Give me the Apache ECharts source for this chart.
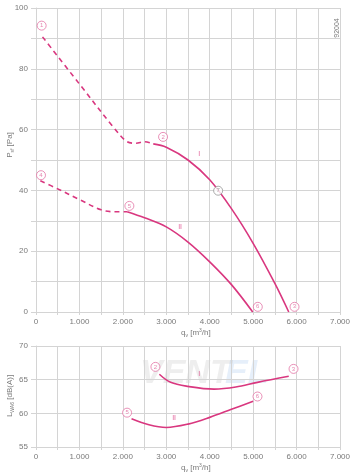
<!DOCTYPE html>
<html><head><meta charset="utf-8">
<script src="https://cdn.jsdelivr.net/npm/echarts@6/dist/echarts.min.js"></script>
<style>html,body{margin:0;padding:0;background:#fff}#c{width:357px;height:476px}</style>
</head><body><div id="c"></div>
<script>
// Pressure curves (q_v in m3/h, p_sf in Pa)
const presIDashed = [[150,90.5],[1000,75],[1800,60.5],[2100,56],[2300,55.5],[2500,56],[2700,55.3]];
const presISolid = [[2700,55.3],[3000,54.2],[3500,50],[4000,43.5],[4500,34],[5000,22.6],[5500,9.4],[5820,0]];
const presIIDashed = [[100,43.2],[500,40.5],[1000,37],[1500,33.6],[1800,33],[2100,33]];
const presIISolid = [[2100,33],[2500,31],[3000,28],[3500,23],[4000,16.5],[4500,9],[4990,0]];
// Sound level curves (dB(A))
const soundI = [[2840,65.8],[3100,64.6],[3500,64],[4100,63.6],[4600,63.9],[5100,64.6],[5820,65.5]];
const soundII = [[2200,59.2],[2600,58.3],[3000,57.9],[3500,58.4],[4000,59.4],[4500,60.6],[5000,61.8]];
// Numbered points
const presMarkers = [[130,94.2,'1'],[2926,57.6,'2'],[5953,1.7,'3'],[115,45,'4'],[2150,34.9,'5'],[5107,1.7,'6']];
const presGreyMarker = [[4194,39.9,'7']];
const soundMarkers = [[2750,66.9,'2'],[5930,66.6,'3'],[2097,60.1,'5'],[5100,62.5,'6']];
const curveLabelsTop = [[3760,52,'I'],[3318,28,'II']];
const curveLabelsBottom = [[3760,65.9,'I'],[3180,59.3,'II']];

const PINK = '#d9377f';
const GRID = '#d4d4d4';
const TXT = '#7a7a7a';
const FONT = 'Liberation Sans';

function fmtX(v){ if (v % 1000 !== 0) return ''; return v === 0 ? '0' : (v/1000) + '.000'; }

function xAxis(idx){
  return {gridIndex: idx, type:'value', min:0, max:7000, interval:500,
    axisLine:{show:false}, axisTick:{show:true, length:3, lineStyle:{color:GRID}},
    splitLine:{show:true, lineStyle:{color:GRID, width:1}},
    axisLabel:{color:TXT, fontSize:8, fontFamily:FONT, margin:6, formatter:fmtX, showMinLabel:true, showMaxLabel:true}};
}

const chart = echarts.init(document.getElementById('c'), null, {renderer:'canvas'});
function lineSeries(data, xi, dashed){
  return {type:'line', xAxisIndex:xi, yAxisIndex:xi, data:data, smooth:0.35, showSymbol:false, silent:true,
    lineStyle:{color:PINK, width:1.6, type: dashed ? [5,4] : 'solid'}, z:3};
}
function markerSeries(data, xi, color){
  return {type:'scatter', xAxisIndex:xi, yAxisIndex:xi, data:data.map(d=>[d[0],d[1],d[2]]), symbol:'circle', symbolSize:9, silent:true, z:5,
    itemStyle:{color:'#fff', borderColor:color, borderWidth:0.9},
    label:{show:true, position:'inside', formatter:p=>p.data[2], color:color, fontSize:6, fontFamily:FONT}};
}
function textSeries(data, xi){
  return {type:'scatter', xAxisIndex:xi, yAxisIndex:xi, data:data, symbolSize:0, silent:true, z:5,
    label:{show:true, position:'inside', formatter:p=>p.data[2], color:PINK, fontSize:7, fontFamily:FONT}};
}

chart.setOption({
  animation:false,
  grid:[{left:36, right:17, top:8, height:304}, {left:36, right:17, top:346, height:101}],
  xAxis:[xAxis(0), xAxis(1)],
  yAxis:[
    {gridIndex:0, type:'value', min:0, max:100, interval:10,
      axisLine:{show:true, lineStyle:{color:GRID}}, axisTick:{show:true, length:5, lineStyle:{color:GRID}},
      splitLine:{lineStyle:{color:GRID}},
      axisLabel:{color:TXT, fontSize:8, fontFamily:FONT, margin:8, formatter:v=> v%20===0 ? String(v) : ''}},
    {gridIndex:1, type:'value', min:55, max:70, interval:5,
      axisLine:{show:true, lineStyle:{color:GRID}}, axisTick:{show:true, length:5, lineStyle:{color:GRID}},
      splitLine:{lineStyle:{color:GRID}},
      axisLabel:{color:TXT, fontSize:8, fontFamily:FONT, margin:8}}
  ],
  graphic:[
    {type:'text', left:140, top:357, z:0, silent:true, style:{text:'VENT', font:'italic bold 34px "Liberation Sans"', fill:'rgba(120,120,120,0.13)'}},
    {type:'text', left:225, top:357, z:0, silent:true, style:{text:'EL', font:'italic bold 34px "Liberation Sans"', fill:'rgba(90,150,220,0.15)'}},
    {type:'text', x:337, y:28, rotation:Math.PI/2, silent:true, style:{text:'92004', font:'7px "Liberation Sans"', fill:TXT, textAlign:'center', textVerticalAlign:'middle'}},
    {type:'text', x:10, y:145, rotation:Math.PI/2, silent:true, style:{rich:{a:{fontSize:8, fontFamily:FONT, fill:TXT}, s:{fontSize:5, fontFamily:FONT, fill:TXT, padding:[5,0,0,0]}}, text:'{a|P}{s|sf}{a| [Pa]}', textAlign:'center', textVerticalAlign:'middle'}},
    {type:'text', x:10, y:396, rotation:Math.PI/2, silent:true, style:{rich:{a:{fontSize:8, fontFamily:FONT, fill:TXT}, s:{fontSize:5, fontFamily:FONT, fill:TXT, padding:[5,0,0,0]}}, text:'{a|L}{s|WA6}{a| [dB(A)]}', textAlign:'center', textVerticalAlign:'middle'}},
    {type:'text', x:181, y:328, silent:true, style:{rich:{a:{fontSize:8, fontFamily:FONT, fill:TXT}, s:{fontSize:5, fontFamily:FONT, fill:TXT, padding:[5,0,0,0]}, p:{fontSize:5, fontFamily:FONT, fill:TXT, padding:[0,0,5,0]}}, text:'{a|q}{s|v}{a| [m}{p|3}{a|/h]}'}},
    {type:'text', x:181, y:463, silent:true, style:{rich:{a:{fontSize:8, fontFamily:FONT, fill:TXT}, s:{fontSize:5, fontFamily:FONT, fill:TXT, padding:[5,0,0,0]}, p:{fontSize:5, fontFamily:FONT, fill:TXT, padding:[0,0,5,0]}}, text:'{a|q}{s|v}{a| [m}{p|3}{a|/h]}'}}
  ],
  series:[
    lineSeries(presIDashed,0,true), lineSeries(presISolid,0,false),
    lineSeries(presIIDashed,0,true), lineSeries(presIISolid,0,false),
    lineSeries(soundI,1,false), lineSeries(soundII,1,false),
    markerSeries(presMarkers,0,'#e0669c'), markerSeries(presGreyMarker,0,'#8a8a8a'),
    markerSeries(soundMarkers,1,'#e0669c'),
    textSeries(curveLabelsTop,0), textSeries(curveLabelsBottom,1)
  ]
});
</script></body></html>
